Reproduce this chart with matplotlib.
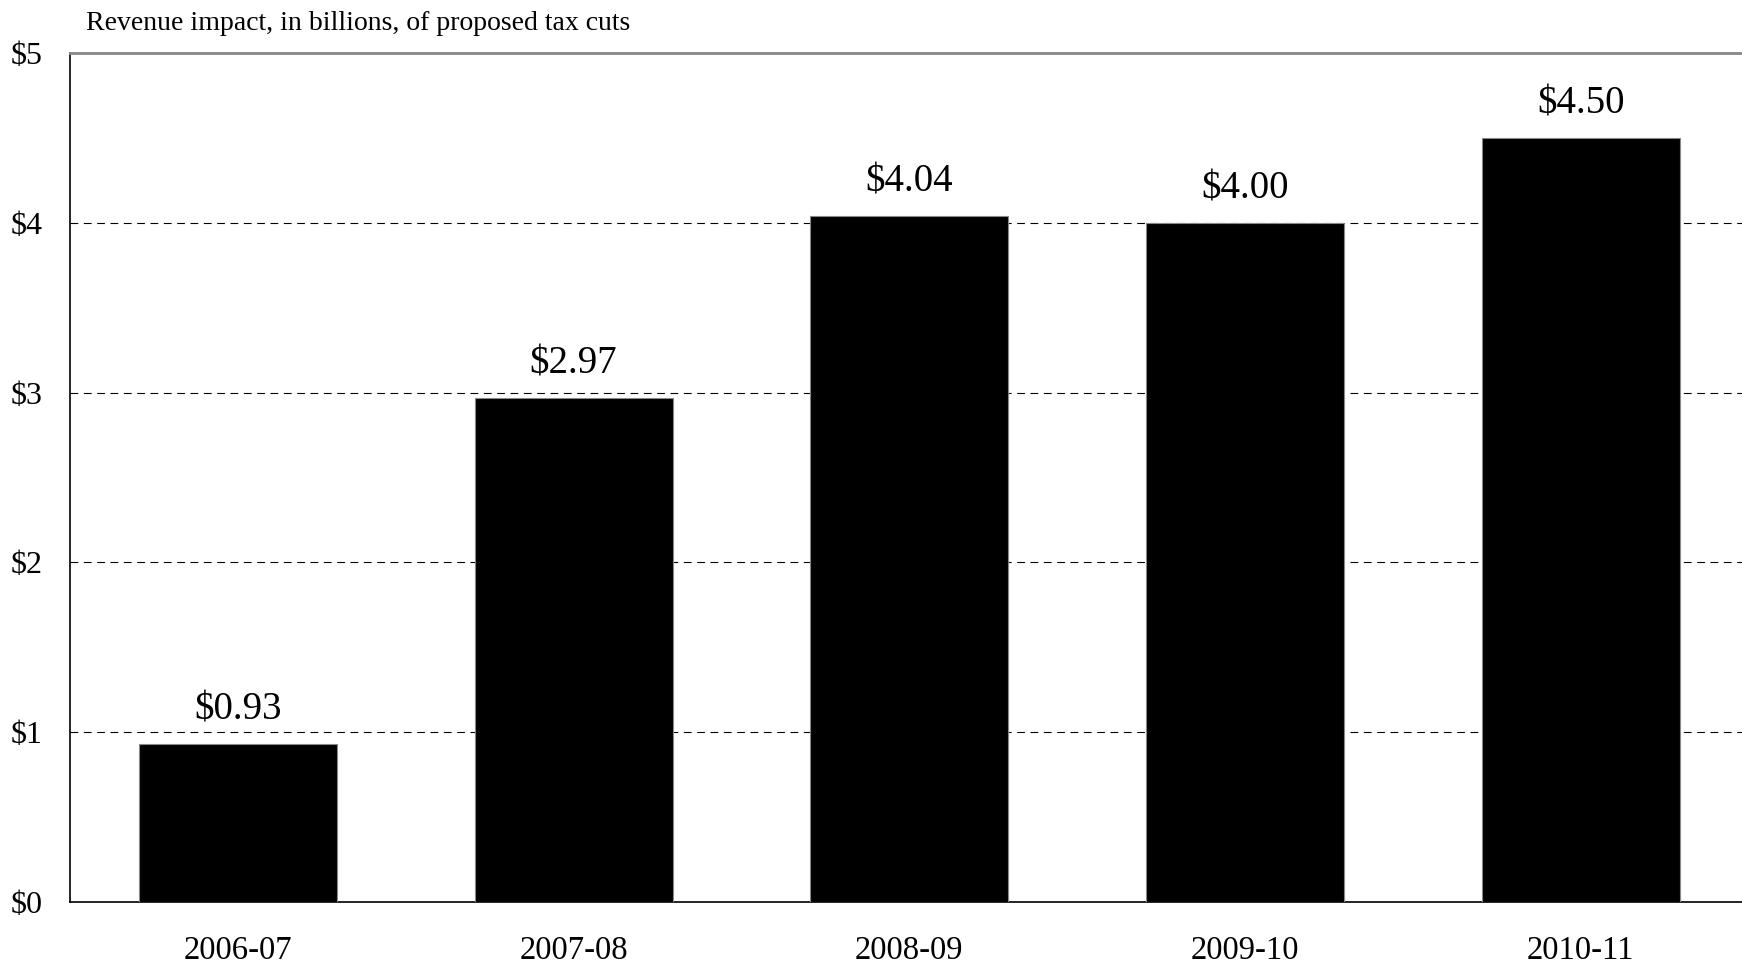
import matplotlib

matplotlib.use("Agg")
import matplotlib.pyplot as plt
import numpy as np

years = ["2006-07", "2007-08", "2008-09", "2009-10", "2010-11"]
impact = [0.93, 2.97, 4.04, 4.00, 4.50]
yticks = [0, 1, 2, 3, 4, 5]
ytick_labels = ["$0", "$1", "$2", "$3", "$4", "$5"]
title = "Revenue impact, in billions, of proposed tax cuts"

plt.rcParams["font.family"] = ["Liberation Serif", "DejaVu Serif"]

fig = plt.figure(figsize=(17.42, 9.64), dpi=100)
ax = fig.add_axes([70 / 1742, 1 - 902 / 964, 1 - 70 / 1742, (902 - 53) / 964])

x = np.arange(len(years))
ax.bar(x, impact, 0.59, color="black", edgecolor="#888888", linewidth=0.8, zorder=3)
for xi, v in zip(x, impact):
    ax.annotate(f"${v:.2f}", (xi, v), xytext=(0, 11), textcoords="offset points",
                ha="center", va="bottom", fontsize=28)

ax.set_xlim(-0.5, 4.48)
ax.set_ylim(0, 5)
ax.set_xticks(x)
ax.set_xticklabels(years, fontsize=23.5)
ax.set_yticks(yticks)
ax.set_yticklabels(ytick_labels, fontsize=23)
ax.tick_params(length=0)
ax.tick_params(axis="y", pad=20)
ax.tick_params(axis="x", pad=24)
for yv in yticks[1:-1]:
    ax.axhline(yv, color="black", linestyle=(0, (7, 5)), linewidth=0.8, zorder=1)

ax.spines["right"].set_visible(False)
ax.spines["top"].set_color("#888888")
ax.spines["top"].set_linewidth(2)
ax.spines["left"].set_linewidth(1.2)
ax.spines["bottom"].set_linewidth(1.2)

fig.text(86 / 1742, 1 - 24 / 964, title, fontsize=20, va="center", ha="left")

fig.savefig("out.png", dpi=100)
